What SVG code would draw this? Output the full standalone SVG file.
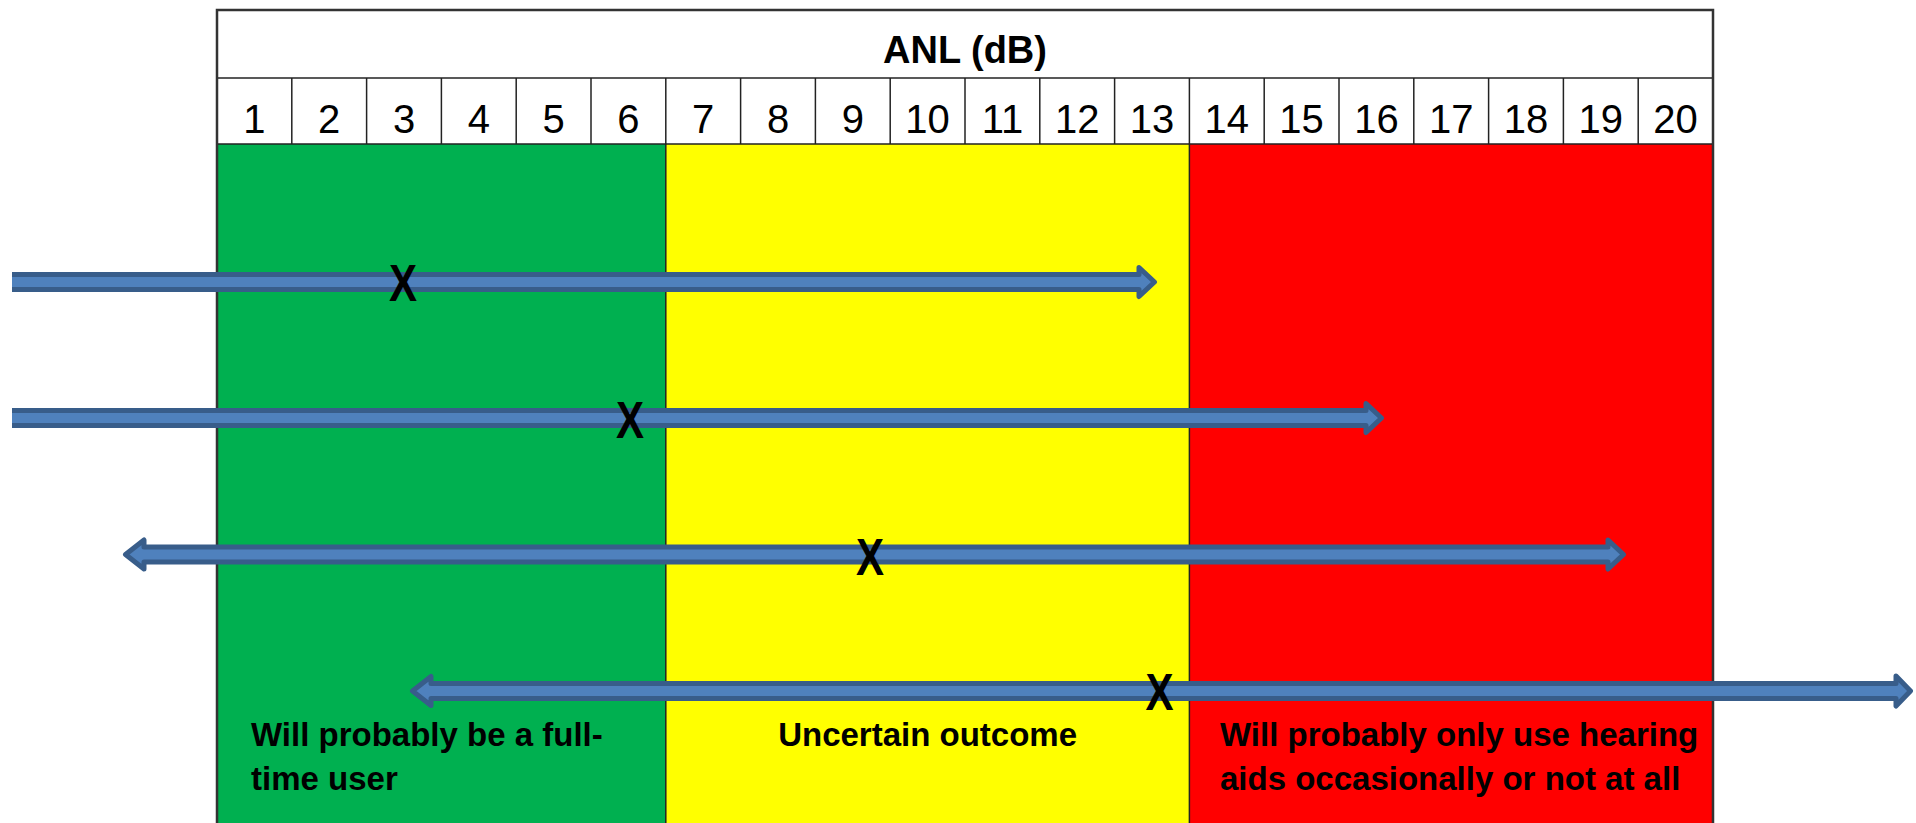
<svg xmlns="http://www.w3.org/2000/svg" width="1916" height="823" viewBox="0 0 1916 823">
  <style>
    .num { font-family: "Liberation Sans", Arial, sans-serif; font-size: 40px; fill: #000; text-anchor: middle; }
    .hdr { font-family: "Liberation Sans", Arial, sans-serif; font-size: 38px; font-weight: bold; fill: #000; text-anchor: middle; }
    .lbl { font-family: "Liberation Sans", Arial, sans-serif; font-size: 33px; font-weight: bold; fill: #000; }
    .x { font-family: "Liberation Sans", Arial, sans-serif; font-size: 52px; font-weight: bold; fill: #000; text-anchor: middle; }
    .arrow { fill: #4F81BD; stroke: #385D8A; stroke-width: 5; stroke-linejoin: round; }
    .cell { stroke: #222; stroke-width: 1.5; fill: none; }
    .border { stroke: #333; stroke-width: 2.5; fill: none; }
  </style>
  <defs>
    <clipPath id="leftclip"><rect x="12" y="0" width="1904" height="823"/></clipPath>
  </defs>
  <rect x="0" y="0" width="1916" height="823" fill="#FFFFFF"/>

  <g id="zone-green">
    <rect x="217" y="144" width="448.8" height="690" fill="#00B050"/>
    <text class="lbl" x="251" y="746">Will probably be a full-</text>
    <text class="lbl" x="251" y="790">time user</text>
  </g>
  <g id="zone-yellow">
    <rect x="665.8" y="144" width="523.6" height="690" fill="#FFFF00"/>
    <text class="lbl" x="927.6" y="746" text-anchor="middle">Uncertain outcome</text>
  </g>
  <g id="zone-red">
    <rect x="1189.4" y="144" width="523.6" height="690" fill="#FF0000"/>
    <text class="lbl" x="1220" y="746">Will probably only use hearing</text>
    <text class="lbl" x="1220" y="790">aids occasionally or not at all</text>
  </g>

  <g id="table-grid">
    <line class="cell" x1="217" y1="78" x2="1713" y2="78"/>
    <line class="cell" x1="217" y1="144" x2="1713" y2="144"/>
    <line class="cell" x1="291.8" y1="78" x2="291.8" y2="144"/>
    <line class="cell" x1="366.6" y1="78" x2="366.6" y2="144"/>
    <line class="cell" x1="441.4" y1="78" x2="441.4" y2="144"/>
    <line class="cell" x1="516.2" y1="78" x2="516.2" y2="144"/>
    <line class="cell" x1="591" y1="78" x2="591" y2="144"/>
    <line class="cell" x1="665.8" y1="78" x2="665.8" y2="823"/>
    <line class="cell" x1="740.6" y1="78" x2="740.6" y2="144"/>
    <line class="cell" x1="815.4" y1="78" x2="815.4" y2="144"/>
    <line class="cell" x1="890.2" y1="78" x2="890.2" y2="144"/>
    <line class="cell" x1="965" y1="78" x2="965" y2="144"/>
    <line class="cell" x1="1039.8" y1="78" x2="1039.8" y2="144"/>
    <line class="cell" x1="1114.6" y1="78" x2="1114.6" y2="144"/>
    <line class="cell" x1="1189.4" y1="78" x2="1189.4" y2="823"/>
    <line class="cell" x1="1264.2" y1="78" x2="1264.2" y2="144"/>
    <line class="cell" x1="1339" y1="78" x2="1339" y2="144"/>
    <line class="cell" x1="1413.8" y1="78" x2="1413.8" y2="144"/>
    <line class="cell" x1="1488.6" y1="78" x2="1488.6" y2="144"/>
    <line class="cell" x1="1563.4" y1="78" x2="1563.4" y2="144"/>
    <line class="cell" x1="1638.2" y1="78" x2="1638.2" y2="144"/>
    <path class="border" d="M217 830 V10 H1713 V830"/>
  </g>

  <g id="header">
    <text class="hdr" x="965" y="63">ANL (dB)</text>
  </g>

  <g id="scale-numbers">
    <text class="num" x="254.4" y="133">1</text>
    <text class="num" x="329.2" y="133">2</text>
    <text class="num" x="404" y="133">3</text>
    <text class="num" x="478.8" y="133">4</text>
    <text class="num" x="553.6" y="133">5</text>
    <text class="num" x="628.4" y="133">6</text>
    <text class="num" x="703.2" y="133">7</text>
    <text class="num" x="778" y="133">8</text>
    <text class="num" x="852.8" y="133">9</text>
    <text class="num" x="927.6" y="133">10</text>
    <text class="num" x="1002.4" y="133">11</text>
    <text class="num" x="1077.2" y="133">12</text>
    <text class="num" x="1152" y="133">13</text>
    <text class="num" x="1226.8" y="133">14</text>
    <text class="num" x="1301.6" y="133">15</text>
    <text class="num" x="1376.4" y="133">16</text>
    <text class="num" x="1451.2" y="133">17</text>
    <text class="num" x="1526" y="133">18</text>
    <text class="num" x="1600.8" y="133">19</text>
    <text class="num" x="1675.6" y="133">20</text>
  </g>

  <g id="connectors">
    <g clip-path="url(#leftclip)">
      <path class="arrow" d="M-10 274.5 H1139 V267.5 L1154.5 282 L1139 296.5 V289.5 H-10 Z"/>
      <path class="arrow" d="M-10 410.5 H1366 V403.5 L1381.5 418 L1366 432.5 V425.5 H-10 Z"/>
    </g>
    <path class="arrow" d="M125.5 554.5 L144 540 V547 H1608 V540 L1623.5 554.5 L1608 569 V562 H144 V569 Z"/>
    <path class="arrow" d="M412.5 691 L431 676.5 V683.5 H1896 V676 L1910.5 691 L1896 706 V698.5 H431 V705.5 Z"/>
  </g>

  <g id="markers">
    <text class="x" x="403" y="301" textLength="28" lengthAdjust="spacingAndGlyphs">X</text>
    <text class="x" x="630" y="438" textLength="28" lengthAdjust="spacingAndGlyphs">X</text>
    <text class="x" x="870" y="575" textLength="28" lengthAdjust="spacingAndGlyphs">X</text>
    <text class="x" x="1159.5" y="710" textLength="28" lengthAdjust="spacingAndGlyphs">X</text>
  </g>
</svg>
